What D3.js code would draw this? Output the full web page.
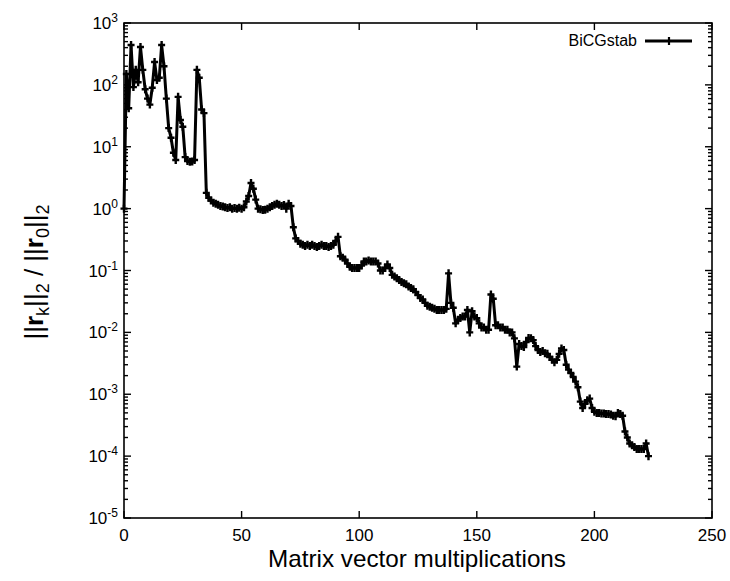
<!DOCTYPE html>
<html>
<head>
<meta charset="utf-8">
<script src="https://cdn.jsdelivr.net/npm/d3@7"></script>
<style>
  body { margin: 0; background: #fff; }
  text { font-family: "Liberation Sans", Arial, sans-serif; fill: #000; }
</style>
</head>
<body>
<div id="chart"></div>
<script>
// relative residual per matrix-vector multiplication (index = number of matvecs)
const residuals = [
  1.0, 150, 42, 440, 92, 175, 110, 410, 175, 85,
  60, 48, 90, 234, 120, 130, 440, 200, 60, 20,
  14, 8, 6.1, 64, 27, 21, 6.8, 5.9, 5.7, 5.8,
  6.1, 175, 130, 40, 35, 1.8, 1.5, 1.35, 1.25, 1.2,
  1.15, 1.1, 1.08, 1.05, 1.02, 1.05, 1.0, 1.02, 1.0, 1.03,
  1.0, 1.05, 1.3, 1.6, 2.6, 2.1, 1.4, 1.0, 0.98, 0.95,
  0.96, 1.0, 1.05, 1.1, 1.15, 1.2, 1.15, 1.1, 1.14, 1.0,
  1.2, 1.1, 0.5, 0.33, 0.3, 0.27, 0.26, 0.25, 0.26, 0.25,
  0.26, 0.25, 0.24, 0.25, 0.26, 0.25, 0.25, 0.24, 0.25, 0.26,
  0.3, 0.35, 0.17, 0.16, 0.15, 0.13, 0.115, 0.11, 0.11, 0.11,
  0.11, 0.12, 0.14, 0.14, 0.145, 0.14, 0.14, 0.14, 0.13, 0.1,
  0.1, 0.11, 0.125, 0.11, 0.085, 0.08, 0.075, 0.07, 0.065, 0.062,
  0.06, 0.055, 0.052, 0.05, 0.045, 0.04, 0.036, 0.034, 0.03, 0.027,
  0.026, 0.025, 0.024, 0.023, 0.023, 0.023, 0.023, 0.024, 0.09, 0.03,
  0.025, 0.014, 0.016, 0.017, 0.018, 0.018, 0.023, 0.01, 0.022, 0.018,
  0.017, 0.014, 0.012, 0.012, 0.011, 0.011, 0.041, 0.035, 0.013, 0.013,
  0.012, 0.012, 0.011, 0.011, 0.01, 0.01, 0.008, 0.0028, 0.0065, 0.006,
  0.0058, 0.007, 0.0081, 0.008, 0.0075, 0.006, 0.0052, 0.0048, 0.005, 0.0046,
  0.0045, 0.004, 0.0036, 0.0033, 0.0036, 0.0045, 0.0055, 0.0052, 0.003, 0.0025,
  0.0022, 0.0019, 0.0016, 0.0013, 0.00076, 0.0006, 0.0007, 0.0008, 0.00085, 0.0006,
  0.00052, 0.0005, 0.0005, 0.00049, 0.00049, 0.00048, 0.00048, 0.00047, 0.00045, 0.00044,
  0.0005, 0.00048, 0.00045, 0.00025, 0.0002, 0.00016, 0.00015, 0.00014, 0.00013, 0.00013,
  0.00013, 0.00013, 0.00016, 0.0001
];

const xTicks = [0, 50, 100, 150, 200, 250];
const yExponents = [3, 2, 1, 0, -1, -2, -3, -4, -5];
const seriesName = "BiCGstab";
const xTitle = "Matrix vector multiplications";

var width = 730, height = 581;
var plot = { left: 124, right: 712, top: 23, bottom: 518 };

var svg = d3.select("#chart")
    .append("svg")
    .attr("width", width)
    .attr("height", height);

var x = d3.scaleLinear().domain([0, 250]).range([plot.left, plot.right]);
var y = d3.scaleLog().domain([1e-5, 1e3]).range([plot.bottom, plot.top]);

// minor ticks 2..9 in every decade
var minorTicks = [];
yExponents.slice(1).forEach(function (e) {
    for (let m = 2; m <= 9; m++) minorTicks.push(m * Math.pow(10, e));
});

var axes = svg.append("g").attr("stroke", "#000").attr("stroke-width", 1.4);

// inward ticks on all four sides
function tickLines(values, len) {
    values.forEach(function (v) {
        axes.append("line").attr("x1", plot.left).attr("x2", plot.left + len)
            .attr("y1", y(v)).attr("y2", y(v));
        axes.append("line").attr("x1", plot.right).attr("x2", plot.right - len)
            .attr("y1", y(v)).attr("y2", y(v));
    });
}
tickLines(yExponents.map(e => Math.pow(10, e)), 7);
tickLines(minorTicks, 4);

xTicks.forEach(function (v) {
    axes.append("line").attr("x1", x(v)).attr("x2", x(v))
        .attr("y1", plot.bottom).attr("y2", plot.bottom - 7);
    axes.append("line").attr("x1", x(v)).attr("x2", x(v))
        .attr("y1", plot.top).attr("y2", plot.top + 7);
});

axes.append("rect")
    .attr("x", plot.left).attr("y", plot.top)
    .attr("width", plot.right - plot.left)
    .attr("height", plot.bottom - plot.top)
    .attr("fill", "none")
    .attr("stroke-width", 1.6);

// tick labels
svg.append("g").selectAll("text")
    .data(xTicks)
    .enter().append("text")
    .attr("x", d => x(d))
    .attr("y", plot.bottom + 23)
    .attr("text-anchor", "middle")
    .attr("font-size", 17)
    .text(d => d);

var yLabels = svg.append("g").selectAll("text")
    .data(yExponents)
    .enter().append("text")
    .attr("x", plot.left - 6)
    .attr("y", d => y(Math.pow(10, d)) + 6)
    .attr("text-anchor", "end")
    .attr("font-size", 17);
yLabels.append("tspan").text("10");
yLabels.append("tspan")
    .attr("dy", -7)
    .attr("font-size", 12)
    .text(d => d < 0 ? "-" + (-d) : d);

// axis titles
svg.append("text")
    .attr("x", 417)
    .attr("y", 567)
    .attr("text-anchor", "middle")
    .attr("font-size", 24)
    .attr("textLength", 298)
    .attr("lengthAdjust", "spacingAndGlyphs")
    .text(xTitle);

var yTitle = svg.append("text")
    .attr("transform", "translate(43,272) rotate(-90)")
    .attr("text-anchor", "middle")
    .attr("font-size", 26);
yTitle.append("tspan").text("||");
yTitle.append("tspan").attr("font-weight", "bold").text("r");
yTitle.append("tspan").attr("font-size", 18).attr("dy", 6).text("k");
yTitle.append("tspan").attr("dy", -6).text("||");
yTitle.append("tspan").attr("font-size", 18).attr("dy", 6).text("2");
yTitle.append("tspan").attr("dy", -6).text(" / ||");
yTitle.append("tspan").attr("font-weight", "bold").text("r");
yTitle.append("tspan").attr("font-size", 18).attr("dy", 6).text("0");
yTitle.append("tspan").attr("dy", -6).text("||");
yTitle.append("tspan").attr("font-size", 18).attr("dy", 6).text("2");

// series
var line = d3.line()
    .x((d, i) => x(i))
    .y(d => y(d));

var series = svg.append("g");
series.append("path")
    .datum(residuals)
    .attr("d", line)
    .attr("fill", "none")
    .attr("stroke", "#000")
    .attr("stroke-width", 3)
    .attr("stroke-linejoin", "round");

var plus = "M-3.5,0H3.5M0,-4V4";
series.selectAll(".pt")
    .data(residuals)
    .enter().append("path")
    .attr("class", "pt")
    .attr("transform", (d, i) => "translate(" + x(i) + "," + y(d) + ")")
    .attr("d", plus)
    .attr("stroke", "#000")
    .attr("stroke-width", 2.4);

// legend
var legend = svg.append("g");
legend.append("text")
    .attr("x", 637)
    .attr("y", 46)
    .attr("text-anchor", "end")
    .attr("font-size", 16)
    .text(seriesName);
legend.append("line")
    .attr("x1", 645).attr("x2", 692)
    .attr("y1", 41).attr("y2", 41)
    .attr("stroke", "#000")
    .attr("stroke-width", 2.8);
legend.append("path")
    .attr("transform", "translate(669,41)")
    .attr("d", plus)
    .attr("stroke", "#000")
    .attr("stroke-width", 2.2);
</script>
</body>
</html>
